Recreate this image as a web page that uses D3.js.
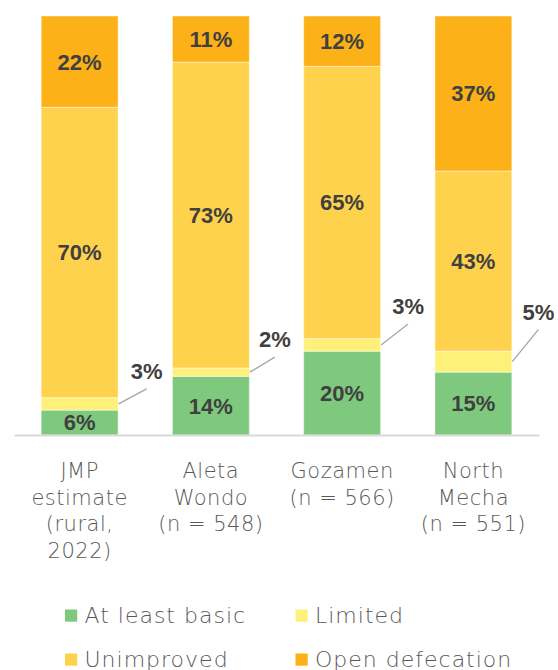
<!DOCTYPE html>
<html>
<head>
<meta charset="utf-8">
<script src="https://cdn.jsdelivr.net/npm/d3@7"></script>
<style>
  html, body { margin: 0; padding: 0; background: #fff; }
  svg { display: block; }
</style>
</head>
<body>
<svg id="chart" width="558" height="670"></svg>
<script>
// Sanitation service levels by area (percent of households)
const categories = [
  ["JMP", "estimate", "(rural,", "2022)"],
  ["Aleta", "Wondo", "(n = 548)"],
  ["Gozamen", "(n = 566)"],
  ["North", "Mecha", "(n = 551)"]
];
const atLeastBasic   = [6, 14, 20, 15];
const limited        = [3, 2, 3, 5];
const unimproved     = [70, 73, 65, 43];
const openDefecation = [22, 11, 12, 37];

const seriesNames = ["At least basic", "Limited", "Unimproved", "Open defecation"];
const seriesKeys  = ["basic", "limited", "unimproved", "open"];
const colors      = ["#7FC97F", "#FFF07A", "#FFD24D", "#FBB117"];

// Leader-line end offsets (from the bar's right edge) for the small "Limited" labels
const leaderOffsets = [[28, -15], [25, -15], [27, -21], [26, -32]];

const rows = categories.map((c, i) => ({
  key: c.join(" "),
  lines: c,
  basic: atLeastBasic[i],
  limited: limited[i],
  unimproved: unimproved[i],
  open: openDefecation[i]
}));

const svg = d3.select("#chart");
const sansLight = "'DejaVu Sans', sans-serif";

const x = d3.scaleBand()
  .domain(rows.map(d => d.key))
  .range([14, 539])
  .paddingInner(0.414)
  .paddingOuter(0.207);

const y = d3.scaleLinear().domain([0, 1]).range([435, 16]);

const stack = d3.stack().keys(seriesKeys).offset(d3.stackOffsetExpand);
const stacked = stack(rows);

const color = d3.scaleOrdinal().domain(seriesKeys).range(colors);

// Stacked bars
const layers = svg.append("g").selectAll("g")
  .data(stacked)
  .join("g")
  .attr("fill", d => color(d.key));

layers.selectAll("rect")
  .data(d => d.map(s => Object.assign(s, { key: d.key })))
  .join("rect")
  .attr("x", d => x(d.data.key))
  .attr("width", x.bandwidth())
  .attr("y", d => y(d[1]))
  .attr("height", d => y(d[0]) - y(d[1]))
  .attr("stroke", "#ffffff")
  .attr("stroke-opacity", 0.45)
  .attr("stroke-width", 1);

// Category axis baseline
const xAxis = d3.axisBottom(x).tickSize(0).tickFormat("");
const axisG = svg.append("g").attr("transform", "translate(0,435)").call(xAxis);
axisG.select(".domain").attr("stroke", "#d9d9d9").attr("stroke-width", 2);

// Multi-line category labels
const catG = svg.append("g")
  .attr("font-family", sansLight)
  .attr("font-weight", 200)
  .attr("font-size", 21)
  .attr("letter-spacing", 0.5)
  .attr("fill", "#595959")
  .attr("text-anchor", "middle");

rows.forEach(r => {
  const cx = x(r.key) + x.bandwidth() / 2;
  const t = catG.append("text")
    .attr("x", cx)
    .attr("y", 478);
  r.lines.forEach((line, i) => {
    t.append("tspan")
      .attr("x", cx)
      .attr("dy", i === 0 ? 0 : 26.7)
      .text(line);
  });
});

// Value labels inside the larger segments
const labelFont = "'Liberation Sans', Arial, sans-serif";
const valueG = svg.append("g")
  .attr("font-family", labelFont)
  .attr("font-weight", "bold")
  .attr("font-size", 22)
  .attr("fill", "#404040")
  .attr("text-anchor", "middle");

stacked.filter(s => s.key !== "limited").forEach(s => {
  s.forEach(d => {
    valueG.append("text")
      .attr("x", x(d.data.key) + x.bandwidth() / 2)
      .attr("y", (y(d[0]) + y(d[1])) / 2)
      .attr("dy", "0.36em")
      .text(d.data[s.key] + "%");
  });
});

// "Limited" values placed outside with leader lines
const limitedLayer = stacked.find(s => s.key === "limited");
limitedLayer.forEach((d, i) => {
  const x0 = x(d.data.key) + x.bandwidth() + 0.5;
  const y0 = (y(d[0]) + y(d[1])) / 2;
  const [dx, dy] = leaderOffsets[i];
  svg.append("line")
    .attr("x1", x0).attr("y1", y0)
    .attr("x2", x0 + dx).attr("y2", y0 + dy)
    .attr("stroke", "#a6a6a6")
    .attr("stroke-width", 1.3);
  valueG.append("text")
    .attr("x", x0 + dx)
    .attr("y", y0 + dy - 18)
    .attr("dy", "0.36em")
    .text(d.data.limited + "%");
});

// Legend (two rows, two columns)
const legendPos = [[65, 609.5], [295.5, 609.5], [65, 653.5], [295.5, 653.5]];
const legend = svg.append("g")
  .attr("font-family", sansLight)
  .attr("font-weight", 200)
  .attr("font-size", 22)
  .attr("letter-spacing", 1.0)
  .attr("fill", "#595959");

seriesNames.forEach((name, i) => {
  const [lx, ly] = legendPos[i];
  legend.append("rect")
    .attr("x", lx).attr("y", ly)
    .attr("width", 12.2).attr("height", 12.2)
    .attr("fill", colors[i]);
  legend.append("text")
    .attr("x", lx + 19.5)
    .attr("y", ly + 13)
    .text(name);
});
</script>
</body>
</html>
